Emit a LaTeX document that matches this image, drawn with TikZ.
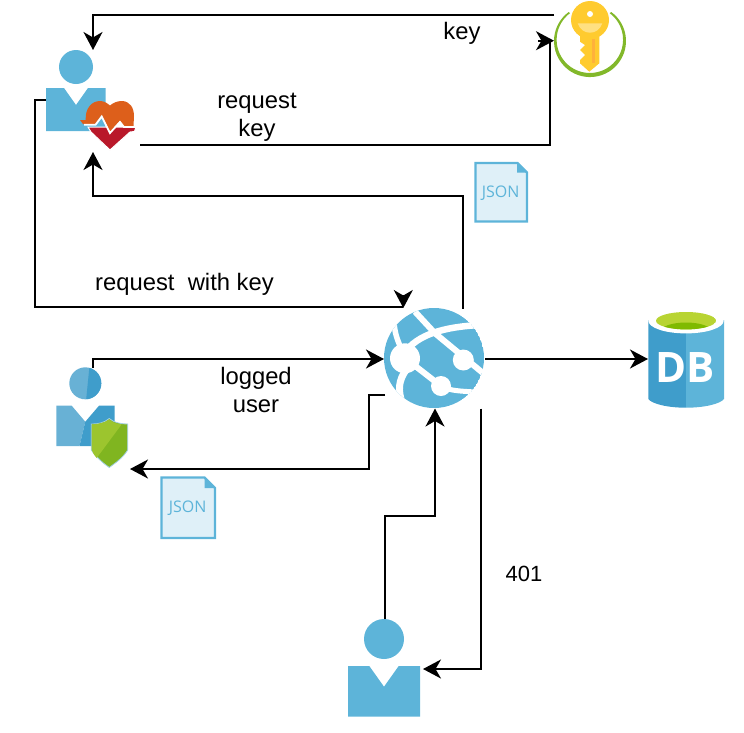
\documentclass[tikz,border=0pt]{standalone}
\usepackage{fontspec}
\setmainfont{Liberation Sans}
\newfontfamily\opensans{Open Sans}
\usetikzlibrary{arrows.meta}
\definecolor{az}{HTML}{5DB4D9}
\definecolor{azd}{HTML}{3F9DCB}
\definecolor{azl}{HTML}{68B1D5}
\definecolor{docf}{HTML}{DFF0F8}
\definecolor{grn}{HTML}{7FBA00}
\definecolor{grnr}{HTML}{82B82A}
\definecolor{grnl}{HTML}{B8D432}
\definecolor{shl}{HTML}{9CC52E}
\definecolor{shd}{HTML}{80B520}
\definecolor{ky}{HTML}{FFCB2F}
\definecolor{kyl}{HTML}{FFE082}
\definecolor{kyd}{HTML}{FFB13B}
\definecolor{ho}{HTML}{DD5F1B}
\definecolor{hr}{HTML}{B9182A}
\tikzset{
  conn/.style={draw=black,line width=2pt,-{Stealth[length=18pt,width=19pt,inset=5.5pt]}},
  box/.style={inner sep=0pt,outer sep=0pt,minimum width=#1},
  lab/.style={align=center,font=\fontsize{23.8}{28}\selectfont,inner sep=0pt},
  jsont/.style={font=\opensans\fontsize{16}{16}\selectfont,text=az,inner sep=0pt},
  docs/.style={draw=az,fill=docf,line width=2.4pt,miter limit=10},
  thinw/.style={draw=white,line width=1pt}
}
\begin{document}
\begin{tikzpicture}[x=1pt,y=-1pt]
\useasboundingbox (0,0) rectangle (744,732);
% anchor boxes
\node[box=94pt,minimum height=102pt] (doctor) at (93,101) {};
\node[box=72pt,minimum height=74pt] (keyicon) at (590,40.7) {};
\node[box=101pt,minimum height=100pt] (globe) at (434.5,358.5) {};
\node[box=76pt,minimum height=100pt] (db) at (686,358) {};
\node[box=74pt,minimum height=100pt] (admin) at (93,418) {};
\node[box=72pt,minimum height=98pt] (user) at (385,668) {};
% doctor
\fill[az] (76,67) circle (17pt);
\fill[az] (46,88) -- (64,88) -- (76,105) -- (88,88) -- (105.6,88) -- (105.6,131) -- (46,131) -- cycle;
\fill[hr,thinw] (88,127) -- (136,127) -- (134.5,131.5) -- (130,132) -- (110,150) -- (91,132) -- cycle;
\fill[ho] (80,120) -- (85.7,120) .. controls (85,108) and (92,101) .. (100,101) .. controls (104,101) and (107,103) .. (110,105.5)
  .. controls (113,103) and (117,101) .. (121.7,101) .. controls (130,101) and (134,108) .. (134,116) -- (133.5,126)
  -- (124,126) -- (120,120.7) -- (110,131.7) -- (101.7,115) -- (95,124) -- (83,124) -- cycle;
\draw[white,line width=1.8pt,line join=miter] (84,124.8) -- (95.5,124.8) -- (101.7,116.5) -- (110,133) -- (120,122) -- (124,127) -- (135,127);
% key
\fill[grnr] (611.4,12.1) arc[start angle=53.5,end angle=-233.5,radius=36pt] -- (570.1,13.1) arc[start angle=126.5,end angle=413.5,radius=33.2pt] -- cycle;
\fill[ky] (590,20) circle (19pt);
\fill[ky] (580,33) -- (599.3,33) -- (599.3,63.3) -- (589.3,71.7) -- (580,63.3) -- (580,60) -- (585,55) -- (580,50) -- (585,45) -- (580,41.7) -- cycle;
\fill[kyl] (577.7,23.3) -- (602.3,23.3) .. controls (600,30) and (595,32.7) .. (590,32.7) .. controls (585,32.7) and (580,30) .. (577.7,23.3) -- cycle;
\fill[white] (590,14) circle (3pt);
\fill[kyd] (592,39) rectangle (595.3,63);
% json docs
\draw[docs] (475.5,163) -- (517.5,163) -- (527,172.5) -- (527,221.5) -- (475.5,221.5) -- cycle;
\fill[az] (517,163) -- (527,172.5) -- (517,172.5) -- cycle;
\node[jsont] (json1) at (500.7,192.7) {JSON};
\draw[docs] (161.5,477.5) -- (204.5,477.5) -- (215,488) -- (215,538) -- (161.5,538) -- cycle;
\fill[az] (204.5,477.5) -- (215,488) -- (204.5,488) -- cycle;
\node[jsont] (json2) at (187.7,508) {JSON};
% globe
\begin{scope}
\clip (434,358) circle (50pt);
\fill[az] (434,358) circle (50pt);
\draw[white,line width=6pt] (415,311.7) -- (435,333.3) -- (483.3,373.3);
\draw[white,line width=6.5pt] (405,352) .. controls (418,335) and (442,327) .. (480,325);
\draw[white,line width=5.5pt] (394,320) .. controls (394,332) and (398,342) .. (402,350);
\draw[white,line width=7pt] (406,370) .. controls (399,380) and (397,390) .. (403,405);
\draw[white,line width=6pt] (405,358) -- (441,386);
\draw[white,line width=5pt] (441,386) .. controls (450,391) and (460,391) .. (475,392);
\fill[white] (405,358.3) circle (15pt) (463.3,360) circle (10.5pt) (441,386) circle (10pt);
\end{scope}
% database
\fill[azd] (686,320) -- (648.3,320) -- (648.3,399) .. controls (652,404) and (668,407.7) .. (686,407.7) -- cycle;
\fill[az] (686,320) -- (724,320) -- (724,399) .. controls (720,404) and (704,407.7) .. (686,407.7) -- cycle;
\fill[white] (686,320.7) ellipse (37.7pt and 12.7pt);
\begin{scope}
\clip (686,320.7) ellipse (30pt and 8.7pt);
\fill[grnl] (686,320.7) ellipse (30pt and 8.7pt);
\fill[grn] (686,331) ellipse (25pt and 8.5pt);
\end{scope}
\node[inner sep=0pt,text=white,font=\opensans\bfseries\fontsize{42}{42}\selectfont] (dblabel) at (685.3,367.3) {DB};
% admin
\fill[azl] (85.3,383.3) circle (16pt);
\begin{scope}
\clip (85.3,383.3) circle (16pt);
\fill[azd] (89.5,366) -- (105,366) -- (105,401) -- (86,401) -- cycle;
\end{scope}
\fill[azl] (56.3,405.7) -- (71.7,405.7) -- (85.3,421.7) -- (79.5,446) -- (56.3,446) -- cycle;
\fill[azd] (85.3,421.7) -- (99,405.7) -- (114.7,405.7) -- (114.7,446) -- (79.5,446) -- cycle;
\fill[shd,draw=azl!60!white,line width=.8pt] (109.3,418.5) .. controls (114,423) and (122,424) .. (127.7,424) -- (127.7,450) .. controls (122,459) and (115,463) .. (109.3,467.5) .. controls (103,463) and (97,458) .. (91.3,450) -- (91.3,424) .. controls (98,424) and (104,423) .. (109.3,418.5) -- cycle;
\fill[shl] (109.3,419.5) .. controls (113,423) and (118,424) .. (121.7,424.3) -- (96.7,458) .. controls (94,455) and (92.5,452) .. (91.8,450) -- (91.8,424.5) .. controls (98,424) and (104,423) .. (109.3,419.5) -- cycle;
% user
\fill[az] (384,639) circle (20pt);
\fill[az] (348,666) -- (369.3,666) -- (384,686.7) -- (398.7,666) -- (420,666) -- (420,716.7) -- (348,716.7) -- cycle;
% connectors
\draw[conn] ([yshift=25.7pt]keyicon.west) -- (doctor.north |- 0,15) -- (doctor.north);
\draw[conn] ([yshift=-44pt]doctor.east) -- (549.5,145) -- (549.5,40.7) (538,40.7) -- (keyicon.west);
\draw[conn] (globe.north -| 463,0) -- (463,196) -- (doctor.south |- 0,196) -- (doctor.south);
\draw[conn] ([yshift=1pt]doctor.west) -- (35,100) -- (35,306.7) -- (403.3,306.7) (403.3,295) -- (403.3,308);
\draw[conn] (admin.north) -- (93,359) -- (globe.west |- 0,359);
\draw[conn] (385,395) -- (369,395) -- (369,469) -- (admin.east |- 0,469);
\draw[conn] (user.north) -- (385,516) -- (435,516) -- (globe.south -| 435,0);
\draw[conn] (481,408.5) -- (481,669) -- (423,669);
\draw[conn] (globe.east |- 0,359) -- (db.west |- 0,359);
% labels
\node[lab] (l1) at (462,33) {key};
\node[lab] (l2) at (257,117.5) {request\\key};
\node[lab] (l3) at (184.5,284) {request\ \ with key};
\node[lab] (l4) at (256,390) {logged\\user};
\node[lab,font=\fontsize{22}{28}\selectfont] (l5) at (524,574) {401};
\end{tikzpicture}
\end{document}
